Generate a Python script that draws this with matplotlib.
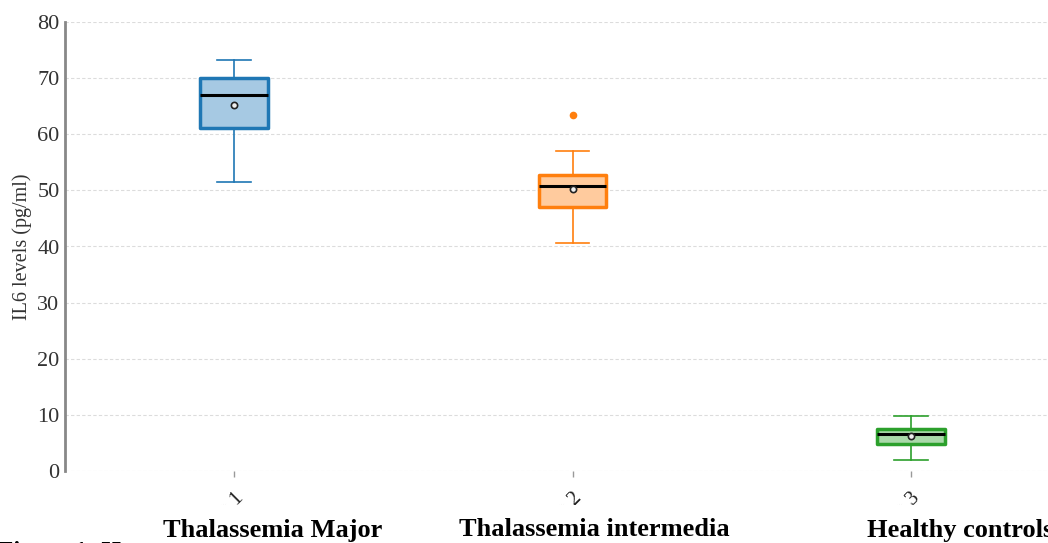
import matplotlib
matplotlib.use("Agg")
import matplotlib.pyplot as plt
import matplotlib.transforms as mtransforms
from matplotlib.patches import Rectangle

# Data
groups = ["Group 1", "Group 2", "Group 3"]
names = ["Thalassemia Major", "Thalassemia intermedia", "Healthy controls"]
whislo = [51.5, 40.6, 2.0]
q1 = [61.1, 47.0, 4.8]
med = [67.0, 50.8, 6.6]
q3 = [70.0, 52.7, 7.5]
whishi = [73.2, 57.0, 9.8]
means = [65.2, 50.2, 6.2]
fliers = [[], [63.4], []]

edge_colors = ["#1f77b4", "#ff7f0e", "#2ca02c"]
fill_colors = ["#a6c9e3", "#ffcb9e", "#aad9aa"]

serif = ["Liberation Serif", "DejaVu Serif"]
plt.rcParams["font.family"] = serif

fig = plt.figure(figsize=(10.48, 5.43), dpi=100)
W, H = 1048, 543
ax = fig.add_axes([65 / W, 1 - 471 / H, (1080 - 65) / W, (471 - 22) / H])

for i in range(3):
    st = [dict(whislo=whislo[i], q1=q1[i], med=med[i], q3=q3[i], whishi=whishi[i],
               mean=means[i], fliers=fliers[i])]
    ax.bxp(st, positions=[i + 1], widths=0.2, patch_artist=True, showmeans=True,
           boxprops=dict(facecolor=fill_colors[i], edgecolor=edge_colors[i], linewidth=2.5,
                         joinstyle="round"),
           whiskerprops=dict(color=edge_colors[i], linewidth=1.2),
           capprops=dict(color=edge_colors[i], linewidth=1.2),
           medianprops=dict(color="black", linewidth=2.2),
           meanprops=dict(marker="o", markerfacecolor="#eeeeee", markeredgecolor="#222222",
                          markersize=4.5, markeredgewidth=1.2),
           flierprops=dict(marker="o", markerfacecolor=edge_colors[i], markeredgecolor="none",
                           markersize=5.5))

ax.set_xlim(0.5, 3.5)
ax.set_ylim(0, 80)
ax.set_yticks(range(0, 81, 10))
ax.set_xticks([1, 2, 3])
ax.set_xticklabels(groups, rotation=45, ha="right", va="top", rotation_mode="anchor",
                   fontsize=15, color="#222222")
offset = mtransforms.ScaledTranslation(9 / 100, 0, fig.dpi_scale_trans)
for lab in ax.get_xticklabels():
    lab.set_transform(lab.get_transform() + offset)
ax.grid(axis="y", color="#dcdcdc", linestyle=(0, (3, 2)), linewidth=0.8)
ax.set_axisbelow(True)
for s in ["top", "right", "bottom"]:
    ax.spines[s].set_visible(False)
ax.spines["left"].set_color("#888888")
ax.spines["left"].set_linewidth(2)
ax.tick_params(axis="y", length=0, labelsize=16, pad=4, labelcolor="#333333")
ax.tick_params(axis="x", length=4, color="#999999", width=1, pad=9)
ax.set_ylabel("IL6 levels (pg/ml)", fontsize=14.5, labelpad=4, color="#333333")

# white band covering the lower part
fig.patches.append(Rectangle((0, 0), 1, (H - 505) / H, transform=fig.transFigure,
                             facecolor="white", edgecolor="none", zorder=10))
for x, n in zip([273, 594, 960], names):
    fig.text(x / W, 1 - 530 / H, n, ha="center", va="center", fontsize=19,
             fontweight="bold", zorder=11)
fig.text(-2 / W, 1 - 553 / H, "Figure 1: H", ha="left", va="center", fontsize=18,
         fontweight="bold", zorder=11)

fig.savefig("out.png", dpi=100)
